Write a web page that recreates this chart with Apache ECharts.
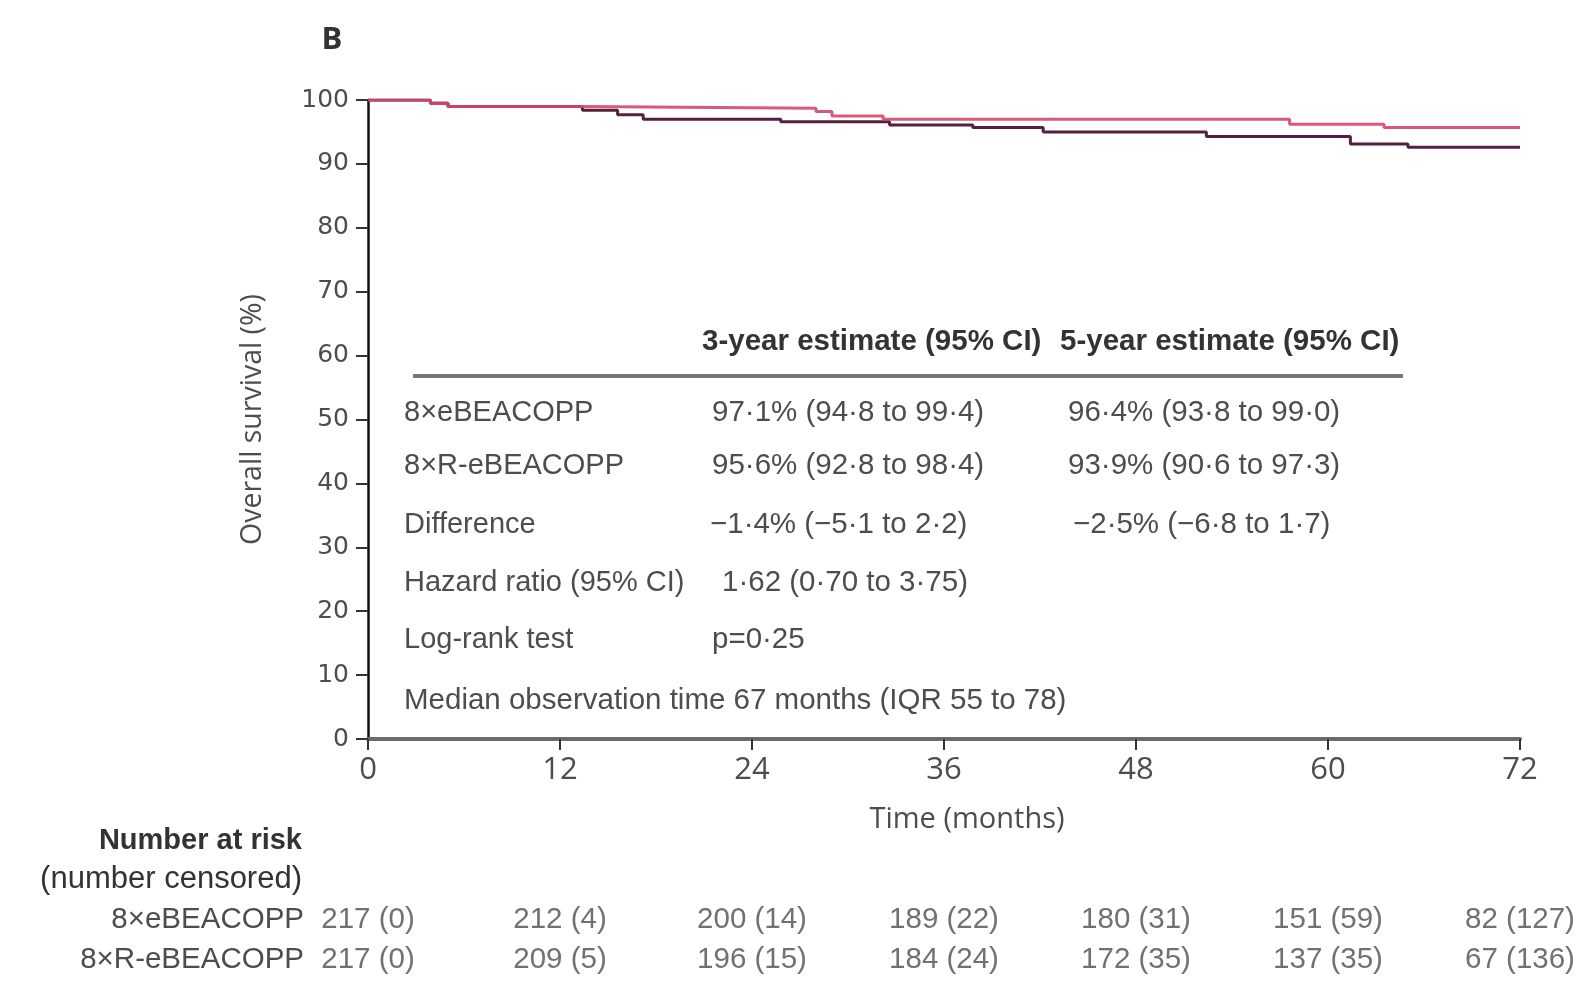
<!DOCTYPE html>
<html>
<head>
<meta charset="utf-8">
<script src="https://cdn.jsdelivr.net/npm/echarts@6/dist/echarts.min.js"></script>
<style>
  html, body { margin: 0; padding: 0; background: #fff; }
  #chart { width: 1588px; height: 983px; }
</style>
</head>
<body>
<div id="chart"></div>
<script>
// Kaplan-Meier overall survival, two treatment arms (step points: month, survival %)
const armNames = ['8×eBEACOPP', '8×R-eBEACOPP'];
const monthsEB  = [0, 3.9, 5.0, 13.4, 28.0, 29.0, 32.2, 57.6, 63.5, 72];
const survEB    = [100, 99.5, 99.0, 98.7, 98.2, 97.5, 97.0, 96.2, 95.7, 95.7];
const monthsREB = [0, 3.9, 5.0, 13.4, 15.6, 17.2, 25.8, 32.6, 37.8, 42.2, 52.4, 61.4, 65.0, 72];
const survREB   = [100, 99.5, 99.0, 98.4, 97.7, 97.0, 96.6, 96.1, 95.7, 95.0, 94.3, 93.1, 92.6, 92.6];

// Number at risk (number censored) at each x tick
const riskMonths = [0, 12, 24, 36, 48, 60, 72];
const atRiskEB   = [217, 212, 200, 189, 180, 151, 82];
const censEB     = [0, 4, 14, 22, 31, 59, 127];
const atRiskREB  = [217, 209, 196, 184, 172, 137, 67];
const censREB    = [0, 5, 15, 24, 35, 35, 136];

// Axis ticks
const xTicks = { min: 0, max: 72, interval: 12 };
const yTicks = { min: 0, max: 100, interval: 10 };

// Summary table text
const tableHeader = ['3-year estimate (95% CI)', '5-year estimate (95% CI)'];
const tableRowLabels = ['8×eBEACOPP', '8×R-eBEACOPP', 'Difference', 'Hazard ratio (95% CI)', 'Log-rank test'];
const table3y = ['97·1% (94·8 to 99·4)', '95·6% (92·8 to 98·4)', '−1·4% (−5·1 to 2·2)', '1·62 (0·70 to 3·75)', 'p=0·25'];
const table5y = ['96·4% (93·8 to 99·0)', '93·9% (90·6 to 97·3)', '−2·5% (−6·8 to 1·7)', '', ''];
const footnote = 'Median observation time 67 months (IQR 55 to 78)';

const SANS = "'Liberation Sans', Arial, sans-serif";
const TEXT = '#4d4d4d';
const DARK_TEXT = '#333';
const COLOR_EB = '#d4486b';
const COLOR_REB = '#55203f';

const pairs = (xs, ys) => xs.map((x, i) => [x, ys[i]]);

const chart = echarts.init(document.getElementById('chart'), null, { renderer: 'canvas' });

const riskLabel = (n, c) => n + ' (' + c + ')';
const riskData = [];
riskMonths.forEach((m, i) => {
  riskData.push({ value: [m, armNames[0]], text: riskLabel(atRiskEB[i], censEB[i]) });
  riskData.push({ value: [m, armNames[1]], text: riskLabel(atRiskREB[i], censREB[i]) });
});

// Summary table as text elements inside the plot
const rowY = [413, 466, 525, 583, 640];
const col3yX = [712, 712, 710, 722, 712];
const col5yX = [1068, 1068, 1073, 1068, 1068];
const graphics = [];
const txt = (x, y, s, font, fill, align) => ({
  type: 'text', x: x, y: y, silent: true,
  style: { text: s, font: font, fill: fill || TEXT, align: align || 'left', verticalAlign: 'middle' }
});
graphics.push(txt(702, 342, tableHeader[0], 'bold 29.5px ' + SANS, DARK_TEXT));
graphics.push(txt(1060, 342, tableHeader[1], 'bold 29.5px ' + SANS, DARK_TEXT));
graphics.push({
  type: 'line', silent: true,
  shape: { x1: 413, y1: 376, x2: 1403, y2: 376 },
  style: { stroke: '#777', lineWidth: 4 }
});
tableRowLabels.forEach((lab, i) => {
  graphics.push(txt(404, rowY[i], lab, '29px ' + SANS));
  graphics.push(txt(col3yX[i], rowY[i], table3y[i], '29.5px ' + SANS));
  if (table5y[i]) graphics.push(txt(col5yX[i], rowY[i], table5y[i], '29.5px ' + SANS));
});
graphics.push(txt(404, 701, footnote, '29.5px ' + SANS));

// Panel letter, x-axis title and at-risk heading
graphics.push(txt(332, 40, 'B', 'bold 31px "Open Sans"', DARK_TEXT, 'center'));
graphics.push(txt(967, 820, 'Time (months)', '29px "Open Sans"', TEXT, 'center'));
graphics.push(txt(302, 841, 'Number at risk', 'bold 29px ' + SANS, DARK_TEXT, 'right'));
graphics.push(txt(302, 879, '(number censored)', '31px ' + SANS, DARK_TEXT, 'right'));

chart.setOption({
  animation: false,
  backgroundColor: '#fff',
  grid: [
    { left: 368, top: 100, width: 1152, height: 639, containLabel: false },
    { left: 368, top: 900, width: 1152, height: 80, containLabel: false }
  ],
  xAxis: [
    {
      gridIndex: 0, type: 'value', min: xTicks.min, max: xTicks.max, interval: xTicks.interval,
      axisLine: { lineStyle: { color: '#6b6b6b', width: 4 } },
      axisTick: { length: 11, lineStyle: { color: '#333', width: 2 } },
      axisLabel: { margin: 16, fontFamily: 'Open Sans', fontSize: 31, color: TEXT },
      splitLine: { show: false }
    },
    {
      gridIndex: 1, type: 'value', min: xTicks.min, max: xTicks.max, interval: xTicks.interval,
      show: false
    }
  ],
  yAxis: [
    {
      gridIndex: 0, type: 'value', min: yTicks.min, max: yTicks.max, interval: yTicks.interval,
      name: 'Overall survival (%)', nameLocation: 'middle', nameGap: 101, nameRotate: 90,
      nameTextStyle: { fontFamily: 'Open Sans', fontSize: 28.5, color: TEXT },
      axisLine: { show: true, lineStyle: { color: '#111', width: 2.5 } },
      axisTick: { show: true, length: 12, lineStyle: { color: '#333', width: 2 } },
      axisLabel: { margin: 19, fontFamily: 'DejaVu Sans', fontSize: 25, color: TEXT },
      splitLine: { show: false }
    },
    {
      gridIndex: 1, type: 'category', data: armNames, inverse: true,
      axisLine: { show: false }, axisTick: { show: false },
      axisLabel: { interval: 0, margin: 64, fontFamily: SANS, fontSize: 29.5, color: TEXT },
      splitLine: { show: false }
    }
  ],
  graphic: graphics,
  series: [
    {
      name: armNames[1], type: 'line', step: 'end', xAxisIndex: 0, yAxisIndex: 0,
      data: pairs(monthsREB, survREB), showSymbol: false,
      lineStyle: { color: COLOR_REB, width: 3 }, z: 3
    },
    {
      name: armNames[0], type: 'line', step: 'end', xAxisIndex: 0, yAxisIndex: 0,
      data: pairs(monthsEB, survEB), showSymbol: false,
      lineStyle: { color: COLOR_EB, width: 3, opacity: 0.9 }, z: 4
    },
    {
      name: 'at risk', type: 'scatter', xAxisIndex: 1, yAxisIndex: 1,
      symbolSize: 0, data: riskData, silent: true,
      label: {
        show: true, position: 'inside', formatter: p => p.data.text,
        fontFamily: SANS, fontSize: 29.5, color: TEXT
      }
    }
  ]
});
</script>
</body>
</html>
